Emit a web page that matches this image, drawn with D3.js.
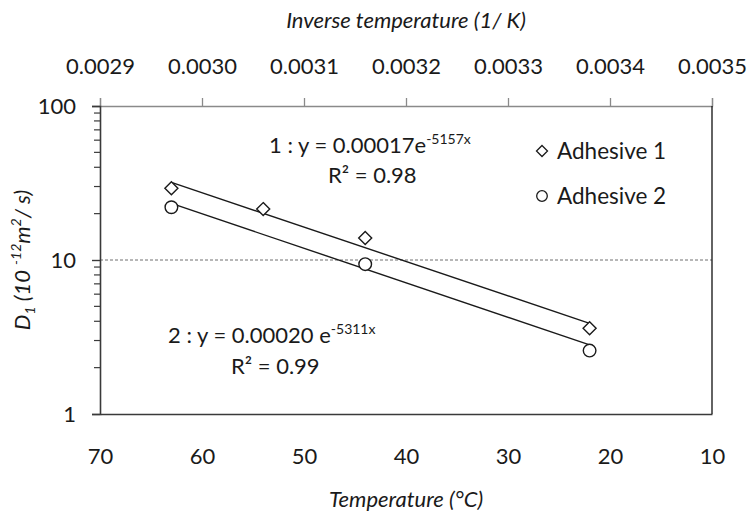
<!DOCTYPE html>
<html>
<head>
<meta charset="utf-8">
<script src="https://cdn.jsdelivr.net/npm/d3@7"></script>
<style>
  html, body { margin: 0; padding: 0; background: #fff; }
  svg { display: block; font-family: Lato, "Open Sans", sans-serif; }
</style>
</head>
<body>
<svg id="chart" width="749" height="514"></svg>
<script>
// Diffusion coefficient D1 of two adhesives versus temperature
const temps1 = [63, 54, 44, 22];
const adhesive1 = [29.2, 21.4, 13.9, 3.6];
const temps2 = [63, 44, 22];
const adhesive2 = [22.0, 9.4, 2.58];

// Fitted trend lines, evaluated at the end temperatures
const trendTemps = [63, 22];
const trend1 = [31.9, 3.88];
const trend2 = [23.3, 2.81];

const tempTicks = [70, 60, 50, 40, 30, 20, 10];
const inverseTicks = [0.0029, 0.0030, 0.0031, 0.0032, 0.0033, 0.0034, 0.0035];
const yTicks = [1, 10, 100];
const yMinorTicks = [2, 3, 4, 5, 6, 7, 8, 9, 20, 30, 40, 50, 60, 70, 80, 90];
const seriesNames = ["Adhesive 1", "Adhesive 2"];

const svg = d3.select("#chart");
const plotLeft = 100, plotRight = 712, plotTop = 106, plotBottom = 414;

const x = d3.scaleLinear().domain([70, 10]).range([plotLeft, plotRight]);
const xTop = d3.scaleLinear().domain([0.0029, 0.0035]).range([plotLeft, plotRight]);
const y = d3.scaleLog().domain([1, 100]).range([plotBottom, plotTop]);

const ink = "#1a1a1a";

// Dashed reference line at D1 = 10
svg.append("line")
  .attr("x1", plotLeft).attr("x2", plotRight)
  .attr("y1", y(10)).attr("y2", y(10))
  .attr("stroke", "#6e6e6e").attr("stroke-width", 1)
  .attr("stroke-dasharray", "3,2");

// Top axis: inverse temperature
const topAxis = d3.axisTop(xTop).tickValues(inverseTicks)
  .tickFormat(d3.format(".4f")).tickSize(8).tickPadding(24);
const gTop = svg.append("g").attr("transform", `translate(0,${plotTop})`).call(topAxis);
gTop.select(".domain").attr("stroke", "#8a8a8a").attr("stroke-width", 1.3);
gTop.selectAll(".tick line").attr("stroke", "#8a8a8a").attr("stroke-width", 1.3);
gTop.selectAll(".tick text").attr("font-size", 22).attr("fill", ink)
  .attr("font-family", "Lato, sans-serif");

// Bottom axis: temperature (no tick marks)
const bottomAxis = d3.axisBottom(x).tickValues(tempTicks)
  .tickFormat(d3.format("d")).tickSize(0).tickPadding(34);
const gBottom = svg.append("g").attr("transform", `translate(0,${plotBottom})`).call(bottomAxis);
gBottom.select(".domain").attr("stroke", "#3a3a3a").attr("stroke-width", 1.6);
gBottom.selectAll(".tick text").attr("font-size", 22).attr("fill", ink)
  .attr("font-family", "Lato, sans-serif");

// Left axis: logarithmic D1
const leftAxis = d3.axisLeft(y).tickValues(yTicks)
  .tickFormat(d3.format("d")).tickSize(8).tickPadding(16);
const gLeft = svg.append("g").attr("transform", `translate(${plotLeft},0)`).call(leftAxis);
gLeft.select(".domain").attr("stroke", "#3a3a3a").attr("stroke-width", 1.6);
gLeft.selectAll(".tick line").attr("stroke", "#3a3a3a").attr("stroke-width", 1.4);
gLeft.selectAll(".tick text").attr("font-size", 22).attr("fill", ink)
  .attr("font-family", "Lato, sans-serif");
gLeft.selectAll(".minor").data(yMinorTicks).enter().append("line")
  .attr("class", "minor")
  .attr("x1", -6).attr("x2", 0)
  .attr("y1", d => y(d)).attr("y2", d => y(d))
  .attr("stroke", "#3a3a3a").attr("stroke-width", 1.2);

// Right frame edge
svg.append("line")
  .attr("x1", plotRight).attr("x2", plotRight).attr("y1", plotTop).attr("y2", plotBottom)
  .attr("stroke", "#222").attr("stroke-width", 1.4);

// Trend lines
const line = d3.line().x(d => x(d[0])).y(d => y(d[1]));
[trend1, trend2].forEach(vals => {
  svg.append("path")
    .datum(trendTemps.map((t, i) => [t, vals[i]]))
    .attr("d", line)
    .attr("fill", "none").attr("stroke", ink).attr("stroke-width", 1.4);
});

// Markers
const diamond = s => `M0,${-s}L${s},0L0,${s}L${-s},0Z`;
svg.selectAll(".pt1").data(temps1.map((t, i) => [t, adhesive1[i]])).enter()
  .append("path").attr("class", "pt1")
  .attr("transform", d => `translate(${x(d[0])},${y(d[1])})`)
  .attr("d", diamond(6.5))
  .attr("fill", "#fff").attr("stroke", ink).attr("stroke-width", 1.4);
svg.selectAll(".pt2").data(temps2.map((t, i) => [t, adhesive2[i]])).enter()
  .append("circle").attr("class", "pt2")
  .attr("cx", d => x(d[0])).attr("cy", d => y(d[1])).attr("r", 6.3)
  .attr("fill", "#fff").attr("stroke", ink).attr("stroke-width", 1.4);

// Legend
const legend = svg.append("g").attr("transform", "translate(542,151)");
seriesNames.forEach((name, i) => {
  const g = legend.append("g").attr("transform", `translate(0,${i * 45})`);
  if (i === 0) {
    g.append("path").attr("d", diamond(5.5))
      .attr("fill", "#fff").attr("stroke", ink).attr("stroke-width", 1.3);
  } else {
    g.append("circle").attr("r", 5.3)
      .attr("fill", "#fff").attr("stroke", ink).attr("stroke-width", 1.3);
  }
  g.append("text").attr("x", 15).attr("y", 8)
    .attr("font-size", 22.5).attr("fill", ink).text(name);
});

// Fit equations
function equation(xPos, yPos, coef, expo) {
  const t = svg.append("text").attr("x", xPos).attr("y", yPos)
    .attr("font-size", 22).attr("fill", ink);
  t.append("tspan").text(coef);
  t.append("tspan").attr("font-size", 14).attr("dy", -9).text(expo);
}
function rSquared(xPos, yPos, val) {
  svg.append("text").attr("x", xPos).attr("y", yPos)
    .attr("font-size", 22).attr("fill", ink)
    .text("R² = " + val);
}
equation(269, 153, "1 : y = 0.00017e", "-5157x");
rSquared(328, 183, "0.98");
equation(168, 343, "2 : y = 0.00020 e", "-5311x");
rSquared(231, 374, "0.99");

// Axis titles
svg.append("text").attr("x", (plotLeft + plotRight) / 2).attr("y", 28)
  .attr("text-anchor", "middle").attr("font-size", 22).attr("font-style", "italic")
  .attr("fill", ink).text("Inverse temperature (1/ K)");
svg.append("text").attr("x", (plotLeft + plotRight) / 2).attr("y", 507)
  .attr("text-anchor", "middle").attr("font-size", 22).attr("font-style", "italic")
  .attr("fill", ink).text("Temperature (°C)");

const yTitle = svg.append("text")
  .attr("transform", `translate(30,${(plotTop + plotBottom) / 2}) rotate(-90)`)
  .attr("text-anchor", "middle").attr("font-size", 22).attr("font-style", "italic")
  .attr("fill", ink);
yTitle.append("tspan").text("D");
yTitle.append("tspan").attr("font-size", 14).attr("dy", 5).text("1");
yTitle.append("tspan").attr("dy", -5).text(" (10 ");
yTitle.append("tspan").attr("font-size", 14).attr("dy", -9).text("-12");
yTitle.append("tspan").attr("dy", 9).text("m");
yTitle.append("tspan").attr("font-size", 14).attr("dy", -9).text("2");
yTitle.append("tspan").attr("dy", 9).text("/ s)");
</script>
</body>
</html>
